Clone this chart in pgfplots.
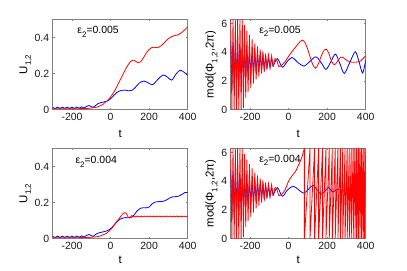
\documentclass[border=0pt]{standalone}
\usepackage{fontspec}
\setmainfont{Liberation Sans}
\usepackage{pgfplots}
\pgfplotsset{compat=1.18}
\newcommand{\sub}[1]{\raisebox{-0.32em}{\fontsize{8}{9}\selectfont #1}}
\pgfplotsset{
  mat/.style={
    scale only axis, width=135bp, height=90bp,
    xmin=-300, xmax=400,
    xtick={-200,0,200,400}, xticklabels={-200,0,200,400},
    tick align=inside, major tick length=1.8bp,
    axis line style={draw=black!50, line width=0.5pt},
    every tick/.append style={black!50, line width=0.5pt},
    tick label style={font=\fontsize{10.5}{12}\selectfont, text=black!90},
    /pgf/number format/assume math mode=true,
    label style={font=\fontsize{11.5}{13}\selectfont},
    xlabel={t},
    every axis plot/.append style={line width=0.8pt},
    anchor=south west,
  },
  uax/.style={mat, ymin=0, ymax=0.5, ytick={0,0.2,0.4}, yticklabels={0,0.2,0.4},
    ylabel={U\sub{1,2}},
    ylabel style={at={(axis description cs:-0.2,0.5)}, anchor=center}},
  pax/.style={mat, ymin=0, ymax=6.2832, ytick={0,2,4,6}, yticklabels={0,2,4,6},
    ylabel={mod(Φ\sub{1,2},2π)},
    ylabel style={at={(axis description cs:-0.14,0.5)}, anchor=center}},
}
\pgfplotstableread{
x y
-300 4.8
-294 1.7
-288 4.7
-282 1.8
-276 4.6
-270 1.9
-264 4.5
-258 2.0
-252 4.4
-246 2.1
-240 4.3
-234 2.2
-228 4.2
-222 2.3
-216 4.1
-210 2.4
-203 4.0
-196 2.5
-189 3.95
-182 2.6
-175 3.9
-168 2.7
-161 3.85
-154 2.75
-147 3.8
-140 2.8
-133 3.75
-126 2.85
-119 3.7
-112 2.9
-104 3.65
-96 2.95
-88 3.6
-80 3.0
}\bluefast
\pgfplotstableread{
x y
-300 6.2832
-294 0
-288 6.2832
-282 0
-276 6.2832
-270 0
-264 6.2832
-258 0
-252 6.2832
-246 0
-240 6.2832
-234 0.1
-228 5.9
-222 0.8
-216 5.5
-210 1.2
-203 5.2
-196 1.5
-189 4.9
-182 1.8
-175 4.6
-168 2.1
-161 4.4
-154 2.3
-147 4.2
-140 2.5
-133 4.05
-126 2.65
-119 3.9
-112 2.8
-104 3.8
-96 2.9
-88 3.75
-80 3.0
}\redfast
\begin{document}
\begin{tikzpicture}
\useasboundingbox (0,0) rectangle (407bp,271bp);
% ---------------- top left
\begin{axis}[uax, at={(52.7bp,161.5bp)},
  xlabel style={at={(axis description cs:0.5,-0.27)}, anchor=center}]
\addplot[blue, smooth] coordinates {(-300,0.012) (-287.5,0.006) (-275,0.013) (-262.5,0.006) (-250,0.013) (-237.5,0.006) (-225,0.013) (-212.5,0.006) (-200,0.013) (-187.5,0.006) (-175,0.014) (-162.5,0.007) (-150,0.015) (-137.5,0.008) (-125,0.017) (-112,0.022) (-100,0.016) (-90,0.012) (-78,0.022) (-65,0.033) (-50,0.038) (-35,0.042) (-20,0.046) (-5,0.055) (8,0.068) (20,0.082) (32,0.094) (45,0.102) (60,0.107) (75,0.108) (92,0.104) (110,0.106) (128,0.122) (150,0.148) (173,0.158) (195,0.148) (218,0.138) (245,0.167) (272,0.192) (295,0.18) (317,0.163) (338,0.195) (360,0.218) (380,0.208) (400,0.19)};
\addplot[red, smooth] coordinates {(-300,0.004) (-250,0.004) (-200,0.004) (-150,0.005) (-120,0.006) (-90,0.01) (-70,0.013) (-55,0.02) (-40,0.028) (-29,0.039) (-15,0.05) (-3,0.065) (10,0.085) (23,0.107) (36,0.135) (49,0.163) (62,0.19) (75,0.218) (88,0.243) (101,0.263) (112,0.272) (120,0.274) (130,0.268) (142,0.259) (156,0.265) (172,0.29) (187,0.317) (200,0.333) (213,0.344) (226,0.346) (239,0.343) (252,0.347) (265,0.357) (278,0.37) (291,0.385) (304,0.397) (317,0.405) (330,0.41) (343,0.413) (356,0.418) (369,0.428) (385,0.443) (400,0.458)};
\node[anchor=base west, font=\fontsize{10.5}{12}\selectfont] at (axis cs:-190,0.42) {ε\sub{2}=0.005};
\end{axis}
% ---------------- top right
\begin{axis}[pax, at={(230.7bp,161.5bp)},
  xlabel style={at={(axis description cs:0.5,-0.27)}, anchor=center}]
\addplot[blue] table {\bluefast};
\addplot[blue, smooth] coordinates {(-80,3.0) (-58,3.55) (-32,2.95) (-7,3.35) (18,3.63) (50,3.26) (80,3.03) (110,3.35) (142,3.68) (170,3.25) (194,2.8) (218,3.3) (243,3.87) (266,3.2) (289,2.52) (318,3.3) (346,4.03) (366,3.3) (384,2.55) (400,3.45)};
\addplot[red] table {\redfast};
\addplot[red, smooth] coordinates {(-80,3.0) (-70,3.55) (-60,3.4) (-50,3.0) (-35,3.1) (-20,3.3) (-10,3.5) (0,3.7) (15,4.0) (30,4.25) (45,4.5) (60,4.75) (72,4.84) (84,4.7) (97,4.3) (110,3.75) (125,3.15) (140,2.88) (155,3.2) (170,3.75) (185,4.15) (195,4.22) (208,3.95) (222,3.4) (237,3.12) (253,3.35) (270,3.65) (285,3.6) (300,3.45) (320,3.32) (345,3.3) (368,3.35) (385,3.55) (400,3.75)};
\node[anchor=base west, font=\fontsize{10.5}{12}\selectfont] at (axis cs:-170,5.3) {ε\sub{2}=0.005};
\end{axis}
% ---------------- bottom left
\begin{axis}[uax, at={(52.7bp,32.5bp)},
  xlabel style={at={(axis description cs:0.5,-0.235)}, anchor=center}]
\addplot[blue, smooth] coordinates {(-300,0.012) (-287.5,0.006) (-275,0.013) (-262.5,0.006) (-250,0.013) (-237.5,0.006) (-225,0.013) (-212.5,0.006) (-200,0.013) (-187.5,0.006) (-175,0.014) (-162.5,0.007) (-150,0.015) (-137.5,0.008) (-125,0.017) (-112,0.022) (-100,0.016) (-90,0.012) (-78,0.022) (-65,0.03) (-50,0.034) (-35,0.038) (-20,0.042) (-5,0.05) (8,0.062) (20,0.078) (35,0.095) (50,0.108) (65,0.114) (80,0.116) (95,0.115) (110,0.118) (125,0.135) (140,0.156) (155,0.168) (170,0.171) (185,0.17) (200,0.175) (215,0.192) (230,0.202) (250,0.205) (270,0.206) (290,0.214) (305,0.224) (320,0.231) (340,0.233) (355,0.236) (370,0.245) (385,0.255) (400,0.256)};
\addplot[red, smooth] coordinates {(-300,0.004) (-250,0.004) (-200,0.004) (-150,0.005) (-110,0.006) (-90,0.008) (-70,0.01) (-55,0.013) (-40,0.02) (-20,0.03) (-5,0.045) (6,0.056) (19,0.074) (32,0.093) (45,0.112) (58,0.13) (67,0.14) (75,0.144) (83,0.137) (92,0.118) (100,0.115) (109,0.127) (117,0.125) (124.5,0.119) (132,0.125) (139.5,0.12) (147,0.125) (154.5,0.12) (162,0.125) (169.5,0.12) (177,0.125) (184.5,0.12) (192,0.125) (199.5,0.12) (207,0.125) (214.5,0.12) (222,0.125) (229.5,0.12) (237,0.125) (244.5,0.12) (252,0.125) (259.5,0.12) (267,0.125) (274.5,0.12) (282,0.125) (289.5,0.12) (297,0.125) (304.5,0.12) (312,0.125) (319.5,0.12) (327,0.125) (334.5,0.12) (342,0.125) (349.5,0.12) (357,0.125) (364.5,0.12) (372,0.125) (379.5,0.12) (387,0.125) (394.5,0.12) (400,0.122)};
\node[anchor=base west, font=\fontsize{10.5}{12}\selectfont] at (axis cs:-200,0.415) {ε\sub{2}=0.004};
\end{axis}
% ---------------- bottom right
\begin{axis}[pax, at={(230.7bp,32.5bp)},
  xlabel style={at={(axis description cs:0.5,-0.235)}, anchor=center}]
\addplot[blue] table {\bluefast};
\addplot[blue, smooth] coordinates {(-80,3.0) (-58,3.55) (-32,2.95) (-5,3.4) (25,3.65) (52,3.4) (80,3.16) (104,3.45) (127,3.72) (148,3.4) (168,3.09) (188,3.3) (208,3.55) (230,3.25) (255,3.45) (280,3.3) (305,3.45) (330,3.3) (355,3.45) (380,3.3) (400,3.4)};
\addplot[red] table {\redfast};
\addplot[red, smooth] coordinates {(-80,3.0) (-70,3.55) (-60,3.4) (-50,3.0) (-35,3.1) (-20,3.35) (-10,3.65) (0,4.0) (14,4.3) (28,4.55) (39,4.75) (54,5.2) (64,5.5) (74,5.9) (82,6.2832)};
\addplot[red] coordinates {(82,6.2832) (82,0) (111,6.2832) (111,0) (135,6.2832) (135,0) (156,6.2832) (156,0) (176,6.2832) (176,0) (194,6.2832) (194,0) (211,6.2832) (211,0) (227,6.2832) (227,0) (242,6.2832) (242,0) (256,6.2832) (256,0) (269,6.2832) (269,0) (281,6.2832) (281,0) (293,6.2832) (293,0) (304,6.2832) (304,0) (315,6.2832) (315,0) (325,6.2832) (325,0) (335,6.2832) (335,0) (344,6.2832) (344,0) (353,6.2832) (353,0) (362,6.2832) (362,0) (370,6.2832) (370,0) (378,6.2832) (378,0) (386,6.2832) (386,0) (393,6.2832) (393,0) (400,6.0)};
\node[anchor=base west, font=\fontsize{10.5}{12}\selectfont] at (axis cs:-170,5.3) {ε\sub{2}=0.004};
\end{axis}
\end{tikzpicture}
\end{document}
